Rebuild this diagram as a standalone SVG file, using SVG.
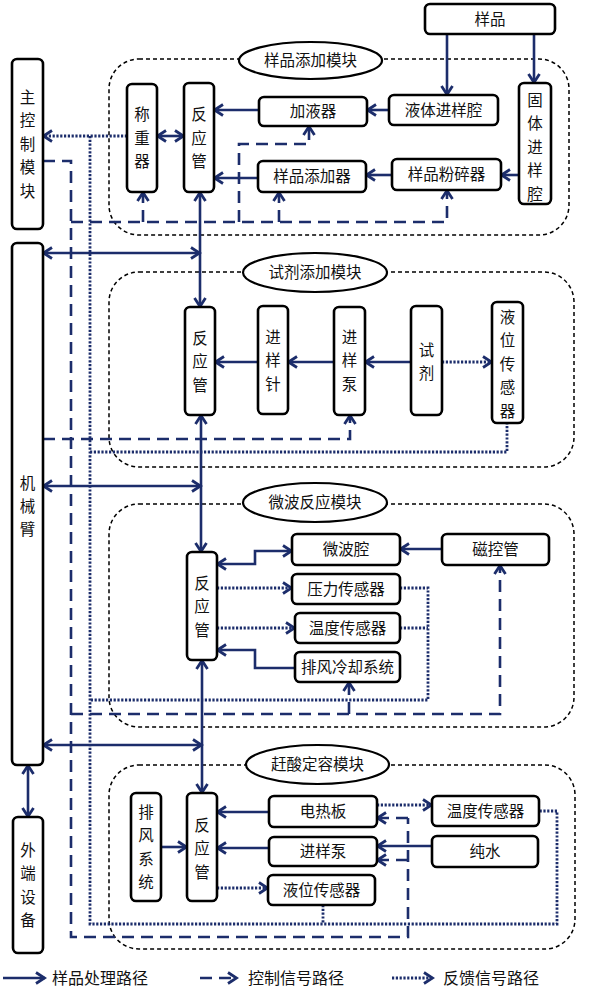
<svg xmlns="http://www.w3.org/2000/svg" width="591" height="1000" viewBox="0 0 591 1000">
<defs>
<marker id="ar" viewBox="0 0 12 14" refX="10.5" refY="7" markerWidth="12" markerHeight="14" markerUnits="userSpaceOnUse" orient="auto-start-reverse"><path d="M1.5,1.5 L10,7 L1.5,12.5" fill="none" stroke="#1c2d6b" stroke-width="2.8" stroke-dasharray="none"/></marker>
</defs>
<style>
.box{fill:#fff;stroke:#000;stroke-width:2.6}
.mod{fill:none;stroke:#000;stroke-width:1.5;stroke-dasharray:4 3}
.ell{fill:#fff;stroke:#000;stroke-width:2.2}
.t{font-family:"Noto Sans CJK SC","Noto Sans",sans-serif;font-size:15.5px;fill:#111;text-anchor:middle}
.lg{font-family:"Noto Sans CJK SC","Noto Sans",sans-serif;font-size:16px;fill:#111}
.s{fill:none;stroke:#1c2d6b;stroke-width:2.6}
.d{fill:none;stroke:#1c2d6b;stroke-width:2.6;stroke-dasharray:12 7}
.f{fill:none;stroke:#1c2d6b;stroke-width:2.8;stroke-dasharray:2.2 1.6}
.a{marker-end:url(#ar)}
.aa{marker-start:url(#ar);marker-end:url(#ar)}
</style>

<!-- modules -->
<g id="module-sample">
<rect class="mod" x="109" y="59" width="460" height="176" rx="30"/>
<ellipse class="ell" cx="310.5" cy="60.5" rx="71.5" ry="18.5"/>
<text class="t" x="310.5" y="66">样品添加模块</text>
</g>
<g id="module-reagent">
<rect class="mod" x="109" y="272" width="465" height="195" rx="30"/>
<ellipse class="ell" cx="315" cy="272.5" rx="72" ry="19.5"/>
<text class="t" x="315" y="278">试剂添加模块</text>
</g>
<g id="module-microwave">
<rect class="mod" x="109" y="504" width="465" height="223" rx="30"/>
<ellipse class="ell" cx="315" cy="502.5" rx="72" ry="19.5"/>
<text class="t" x="315" y="508">微波反应模块</text>
</g>
<g id="module-acid">
<rect class="mod" x="109" y="765" width="466" height="184" rx="30"/>
<ellipse class="ell" cx="317.5" cy="764.5" rx="71.5" ry="19.5"/>
<text class="t" x="317.5" y="770">赶酸定容模块</text>
</g>

<!-- connectors -->
<g id="connectors">
<!-- sample module solid -->
<path class="s a" d="M447,34 V95"/>
<path class="s a" d="M534,34 V83"/>
<path class="s a" d="M389,110 H367"/>
<path class="s a" d="M519,175 H501"/>
<path class="s a" d="M392,175 H366"/>
<path class="s a" d="M259,110 H214"/>
<path class="s a" d="M258,178 H214"/>
<path class="s aa" d="M157,136 H184"/>
<!-- reactor column / arm -->
<path class="s aa" d="M200,192 V307"/>
<path class="s aa" d="M201,415 V552"/>
<path class="s aa" d="M202,660 V793"/>
<path class="s aa" d="M43,253 H200"/>
<path class="s aa" d="M43,486 H201"/>
<path class="s aa" d="M43,745 H202"/>
<path class="s aa" d="M28,765 V817"/>
<!-- reagent module -->
<path class="s a" d="M288,362 H215"/>
<path class="s a" d="M334,362 H288"/>
<path class="s a" d="M411,362 H365"/>
<path class="f a" d="M442,362 H492"/>
<!-- microwave module -->
<path class="s aa" d="M217,564 H255 V551 H292"/>
<path class="s a" d="M442,549 H400"/>
<path class="f a" d="M217,588 H292"/>
<path class="f a" d="M217,628 H295"/>
<path class="s a" d="M295,668 H255 V650 H217"/>
<!-- acid module -->
<path class="s a" d="M269,812 H217"/>
<path class="s a" d="M269,848 H217"/>
<path class="s a" d="M161,847 H187"/>
<path class="f a" d="M217,888 H268"/>
<path class="f a" d="M377,805 H432"/>
<path class="s a" d="M432,846 H377"/>
<!-- control (dashed) -->
<path class="d" d="M43,161 H71 V937 H408 V818"/>
<path class="d a" d="M408,818 H377"/>
<path class="d a" d="M408,860 H377"/>
<path class="d a" d="M71,222 H447 V190"/>
<path class="d a" d="M143,222 V192"/>
<path class="d a" d="M279,222 V192"/>
<path class="d a" d="M239,222 V144 H309 V126"/>
<path class="d a" d="M43,439 H350 V415"/>
<path class="d a" d="M71,714 H500 V565"/>
<path class="d a" d="M349,714 V682"/>
<!-- feedback (dotted) -->
<path class="f a" d="M127,136 H43"/>
<path class="f" d="M90,136 V924 H557 V811 H539"/>
<path class="f" d="M323,905 V924"/>
<path class="f" d="M90,452 H507 V423"/>
<path class="f" d="M400,588 H428 V700 H90"/>
<path class="f" d="M400,628 H428"/>
</g>

<!-- nodes -->
<g id="main-control"><rect class="box" x="12" y="59" width="31" height="170" rx="5"/>
<text class="t" x="27.5"><tspan x="27.5" y="102.5">主</tspan><tspan x="27.5" y="126">控</tspan><tspan x="27.5" y="149.5">制</tspan><tspan x="27.5" y="173">模</tspan><tspan x="27.5" y="196.5">块</tspan></text></g>
<g id="robot-arm"><rect class="box" x="12" y="243" width="31" height="522" rx="5"/>
<text class="t"><tspan x="27.5" y="488.5">机</tspan><tspan x="27.5" y="511.5">械</tspan><tspan x="27.5" y="534.5">臂</tspan></text></g>
<g id="external"><rect class="box" x="13" y="817" width="30" height="136" rx="5"/>
<text class="t"><tspan x="28" y="855.5">外</tspan><tspan x="28" y="879">端</tspan><tspan x="28" y="902.5">设</tspan><tspan x="28" y="926">备</tspan></text></g>

<g id="sample"><rect class="box" x="425" y="4" width="130" height="30" rx="5"/><text class="t" x="490" y="24.5">样品</text></g>
<g id="weigher"><rect class="box" x="127" y="84" width="30" height="108" rx="5"/>
<text class="t"><tspan x="142" y="120">称</tspan><tspan x="142" y="143.5">重</tspan><tspan x="142" y="167">器</tspan></text></g>
<g id="tube1"><rect class="box" x="184" y="83" width="30" height="109" rx="5"/>
<text class="t"><tspan x="199" y="120">反</tspan><tspan x="199" y="143.5">应</tspan><tspan x="199" y="167">管</tspan></text></g>
<g id="liquid-adder"><rect class="box" x="259" y="97" width="108" height="29" rx="5"/><text class="t" x="313" y="117">加液器</text></g>
<g id="sample-adder"><rect class="box" x="258" y="161" width="108" height="31" rx="5"/><text class="t" x="312" y="182">样品添加器</text></g>
<g id="liquid-inlet"><rect class="box" x="389" y="95" width="109" height="30" rx="5"/><text class="t" x="443.5" y="115.5">液体进样腔</text></g>
<g id="grinder"><rect class="box" x="392" y="159" width="109" height="31" rx="5"/><text class="t" x="446.5" y="180">样品粉碎器</text></g>
<g id="solid-inlet"><rect class="box" x="519" y="83" width="32" height="121" rx="5"/>
<text class="t"><tspan x="535" y="105.5">固</tspan><tspan x="535" y="129">体</tspan><tspan x="535" y="152.5">进</tspan><tspan x="535" y="176">样</tspan><tspan x="535" y="199.5">腔</tspan></text></g>

<g id="tube2"><rect class="box" x="185" y="307" width="30" height="108" rx="5"/>
<text class="t"><tspan x="200" y="343.5">反</tspan><tspan x="200" y="367">应</tspan><tspan x="200" y="390.5">管</tspan></text></g>
<g id="needle"><rect class="box" x="258" y="306" width="30" height="108" rx="5"/>
<text class="t"><tspan x="273" y="342.5">进</tspan><tspan x="273" y="366">样</tspan><tspan x="273" y="389.5">针</tspan></text></g>
<g id="pump1"><rect class="box" x="334" y="307" width="31" height="108" rx="5"/>
<text class="t"><tspan x="349.5" y="342.5">进</tspan><tspan x="349.5" y="366">样</tspan><tspan x="349.5" y="389.5">泵</tspan></text></g>
<g id="reagent"><rect class="box" x="411" y="306" width="31" height="109" rx="5"/>
<text class="t"><tspan x="426.5" y="355.5">试</tspan><tspan x="426.5" y="378.5">剂</tspan></text></g>
<g id="level-sensor1"><rect class="box" x="492" y="302" width="31" height="121" rx="5"/>
<text class="t"><tspan x="507.5" y="322.5">液</tspan><tspan x="507.5" y="346">位</tspan><tspan x="507.5" y="369.5">传</tspan><tspan x="507.5" y="393">感</tspan><tspan x="507.5" y="416.5">器</tspan></text></g>

<g id="tube3"><rect class="box" x="187" y="552" width="30" height="108" rx="5"/>
<text class="t"><tspan x="202" y="588.5">反</tspan><tspan x="202" y="612">应</tspan><tspan x="202" y="635.5">管</tspan></text></g>
<g id="cavity"><rect class="box" x="292" y="534" width="108" height="31" rx="5"/><text class="t" x="346" y="555">微波腔</text></g>
<g id="magnetron"><rect class="box" x="442" y="534" width="107" height="31" rx="5"/><text class="t" x="495.5" y="555">磁控管</text></g>
<g id="pressure"><rect class="box" x="292" y="574" width="108" height="30" rx="5"/><text class="t" x="346" y="594.5">压力传感器</text></g>
<g id="temp1"><rect class="box" x="295" y="613" width="105" height="30" rx="5"/><text class="t" x="347.5" y="633.5">温度传感器</text></g>
<g id="cooling"><rect class="box" x="295" y="652" width="105" height="30" rx="5"/><text class="t" x="347.5" y="672.5">排风冷却系统</text></g>

<g id="exhaust"><rect class="box" x="131" y="793" width="30" height="108" rx="5"/>
<text class="t"><tspan x="146" y="817.5">排</tspan><tspan x="146" y="841">风</tspan><tspan x="146" y="864.5">系</tspan><tspan x="146" y="888">统</tspan></text></g>
<g id="tube4"><rect class="box" x="187" y="793" width="30" height="108" rx="5"/>
<text class="t"><tspan x="202" y="830.5">反</tspan><tspan x="202" y="854">应</tspan><tspan x="202" y="877.5">管</tspan></text></g>
<g id="hotplate"><rect class="box" x="269" y="796" width="108" height="31" rx="5"/><text class="t" x="323" y="817">电热板</text></g>
<g id="pump2"><rect class="box" x="269" y="837" width="108" height="29" rx="5"/><text class="t" x="323" y="857">进样泵</text></g>
<g id="level-sensor2"><rect class="box" x="268" y="875" width="107" height="30" rx="5"/><text class="t" x="321.5" y="895.5">液位传感器</text></g>
<g id="temp2"><rect class="box" x="432" y="796" width="107" height="30" rx="5"/><text class="t" x="485.5" y="816.5">温度传感器</text></g>
<g id="water"><rect class="box" x="432" y="836" width="106" height="31" rx="5"/><text class="t" x="485" y="857">纯水</text></g>

<!-- legend -->
<g id="legend">
<path class="s a" d="M3,978 H45"/>
<text class="lg" x="52" y="984">样品处理路径</text>
<path class="d a" d="M200,978 H237"/>
<text class="lg" x="248" y="984">控制信号路径</text>
<path class="f a" d="M392,978 H433"/>
<text class="lg" x="443" y="984">反馈信号路径</text>
</g>
</svg>
